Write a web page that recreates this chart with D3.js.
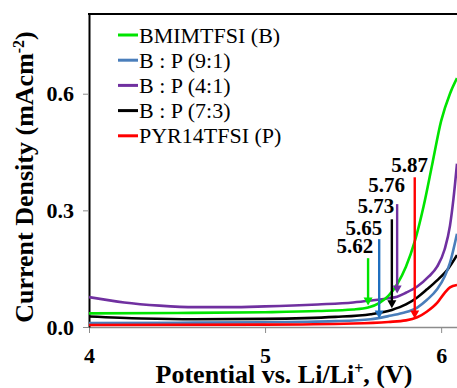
<!DOCTYPE html>
<html>
<head>
<meta charset="utf-8">
<script src="https://cdn.jsdelivr.net/npm/d3@7"></script>
</head>
<body style="margin:0">
<svg id="chart" width="457" height="388" style="font-family:'Liberation Serif'"></svg>
<script>
// series names, in legend order
var names = ["BMIMTFSI (B)", "B : P (9:1)", "B : P (4:1)", "B : P (7:3)", "PYR14TFSI (P)"];
var colors = ["#00e400", "#4a7ebb", "#7030a0", "#000000", "#ff0000"];

// [potential V, current density mA/cm2]
var green = [[4,0.035],[4.5,0.036],[5,0.038],[5.3,0.041],[5.5,0.045],[5.585,0.05],[5.65,0.062],[5.7,0.08],[5.75,0.11],[5.8,0.155],[5.85,0.22],[5.9,0.31],[5.95,0.42],[6.0,0.53],[6.05,0.6],[6.09,0.64]];
var blue = [[4,0.01],[4.5,0.011],[5,0.012],[5.4,0.015],[5.6,0.02],[5.7,0.028],[5.78,0.036],[5.864,0.05],[5.92,0.07],[5.977,0.097],[6.02,0.13],[6.05,0.165],[6.09,0.24]];
var purple = [[4,0.077],[4.2,0.063],[4.4,0.055],[4.6,0.051],[4.8,0.051],[5,0.053],[5.3,0.058],[5.5,0.063],[5.6,0.068],[5.7,0.074],[5.75,0.078],[5.8,0.088],[5.864,0.104],[5.93,0.13],[5.977,0.155],[6.02,0.2],[6.05,0.26],[6.07,0.33],[6.09,0.42]];
var black = [[4,0.027],[4.3,0.022],[4.6,0.02],[5,0.021],[5.4,0.026],[5.6,0.033],[5.72,0.044],[5.8,0.058],[5.864,0.076],[5.92,0.097],[5.977,0.12],[6.04,0.15],[6.09,0.185]];
var red = [[4,0.005],[5,0.006],[5.5,0.009],[5.7,0.013],[5.8,0.017],[5.864,0.025],[5.92,0.04],[5.977,0.062],[6.02,0.088],[6.05,0.102],[6.09,0.108]];

// onset arrows: potential, top and tip of arrow, label text, label anchor
var arrowV = [5.585, 5.648, 5.72, 5.75, 5.85];
var arrowTop = [0.177, 0.226, 0.277, 0.316, 0.385];
var arrowTip = [0.055, 0.022, 0.048, 0.086, 0.022];
var arrowColor = ["#00e400", "#1f6fbf", "#000000", "#7030a0", "#ff0000"];
var arrowLabel = ["5.62", "5.65", "5.73", "5.76", "5.87"];
var labelV = [5.614, 5.665, 5.733, 5.795, 5.926];
var labelJ = [0.19, 0.236, 0.292, 0.347, 0.398];

var xTicks = [4, 5, 6];
var yTicks = [0.0, 0.3, 0.6];

var width = 457, height = 388;
var marginLeft = 89, marginTop = 14, axisY = 327;
var fontFam = "'Liberation Serif'";

var svg = d3.select("#chart");

var x = d3.scaleLinear().domain([4, 6.09]).range([marginLeft, width]);
var y = d3.scaleLinear().domain([0, 0.805]).range([axisY, marginTop]);

svg.append("clipPath").attr("id", "clip")
  .append("rect")
    .attr("x", marginLeft).attr("y", marginTop)
    .attr("width", width - marginLeft).attr("height", axisY - marginTop);

// bottom axis (grey)
var xAxis = svg.append("g")
    .attr("transform", "translate(0," + axisY + ")")
    .call(d3.axisBottom(x).tickValues(xTicks).tickSize(6).tickSizeOuter(0).tickFormat(d3.format("d")));
xAxis.attr("font-family", null).attr("font-size", null);
xAxis.select(".domain").attr("stroke", "#8c8c8c").attr("stroke-width", 1.5);
xAxis.selectAll(".tick line").attr("stroke", "#8c8c8c");
xAxis.selectAll(".tick text")
    .attr("y", 20)
    .attr("dy", "0.71em")
    .attr("font-weight", "bold")
    .attr("font-size", "22px")
    .attr("fill", "#000");

// left axis
var yAxis = svg.append("g")
    .attr("transform", "translate(" + marginLeft + ",0)")
    .call(d3.axisLeft(y).tickValues(yTicks).tickSize(6).tickSizeOuter(0).tickFormat(d3.format(".1f")));
yAxis.attr("font-family", null).attr("font-size", null);
yAxis.select(".domain").attr("stroke", "#000").attr("stroke-width", 2);
yAxis.selectAll(".tick line").attr("stroke", "#8c8c8c");
yAxis.selectAll(".tick text")
    .attr("x", -15)
    .attr("font-weight", "bold")
    .attr("font-size", "22px")
    .attr("fill", "#000");

// top frame line
svg.append("line")
    .attr("x1", marginLeft - 1).attr("x2", width)
    .attr("y1", marginTop).attr("y2", marginTop)
    .attr("stroke", "#000").attr("stroke-width", 2);

var line = d3.line()
    .x(d => x(d[0]))
    .y(d => y(d[1]))
    .curve(d3.curveMonotoneX);

var series = [purple, green, black, blue, red];
var seriesColor = [colors[2], colors[0], colors[3], colors[1], colors[4]];

svg.append("g").attr("clip-path", "url(#clip)")
  .selectAll("path")
  .data(series)
  .enter()
  .append("path")
    .attr("d", line)
    .attr("fill", "none")
    .attr("stroke", (d, i) => seriesColor[i])
    .attr("stroke-width", 2.6);

// arrows
var arrows = svg.append("g");
arrowV.forEach(function (v, i) {
  var ax = x(v), y0 = y(arrowTop[i]), y1 = y(arrowTip[i]);
  arrows.append("line")
      .attr("x1", ax).attr("x2", ax)
      .attr("y1", y0).attr("y2", y1 - 6)
      .attr("stroke", arrowColor[i])
      .attr("stroke-width", 2.4);
  arrows.append("path")
      .attr("d", "M" + (ax - 4.5) + "," + (y1 - 8) + "L" + (ax + 4.5) + "," + (y1 - 8) + "L" + ax + "," + y1 + "Z")
      .attr("fill", arrowColor[i]);
  arrows.append("text")
      .attr("x", x(labelV[i]))
      .attr("y", y(labelJ[i]))
      .attr("text-anchor", "end")
      .attr("font-weight", "bold")
      .attr("font-size", "21px")
      .text(arrowLabel[i]);
});

// legend
var legend = svg.append("g");
names.forEach(function (n, i) {
  var cy = 35 + i * 25.2;
  legend.append("line")
      .attr("x1", 118).attr("x2", 138)
      .attr("y1", cy).attr("y2", cy)
      .attr("stroke", colors[i])
      .attr("stroke-width", 3);
  legend.append("text")
      .attr("x", 139)
      .attr("y", cy + 7.5)
      .attr("font-size", "22px")
      .text(n);
});

// axis titles
var xt = svg.append("text")
    .attr("x", 284)
    .attr("y", 383)
    .attr("text-anchor", "middle")
    .attr("font-weight", "bold")
    .attr("font-size", "26px");
xt.append("tspan").text("Potential vs. Li/Li");
xt.append("tspan").attr("font-size", "16px").attr("dy", "-9").text("+");
xt.append("tspan").attr("dy", "9").text(", (V)");

var yt = svg.append("text")
    .attr("transform", "translate(33,177) rotate(-90)")
    .attr("text-anchor", "middle")
    .attr("font-weight", "bold")
    .attr("font-size", "26px");
yt.append("tspan").text("Current Density (mAcm");
yt.append("tspan").attr("font-size", "16px").attr("dy", "-9").text("-2");
yt.append("tspan").attr("dy", "9").text(")");

svg.selectAll("text").style("font-family", fontFam);
</script>
</body>
</html>
